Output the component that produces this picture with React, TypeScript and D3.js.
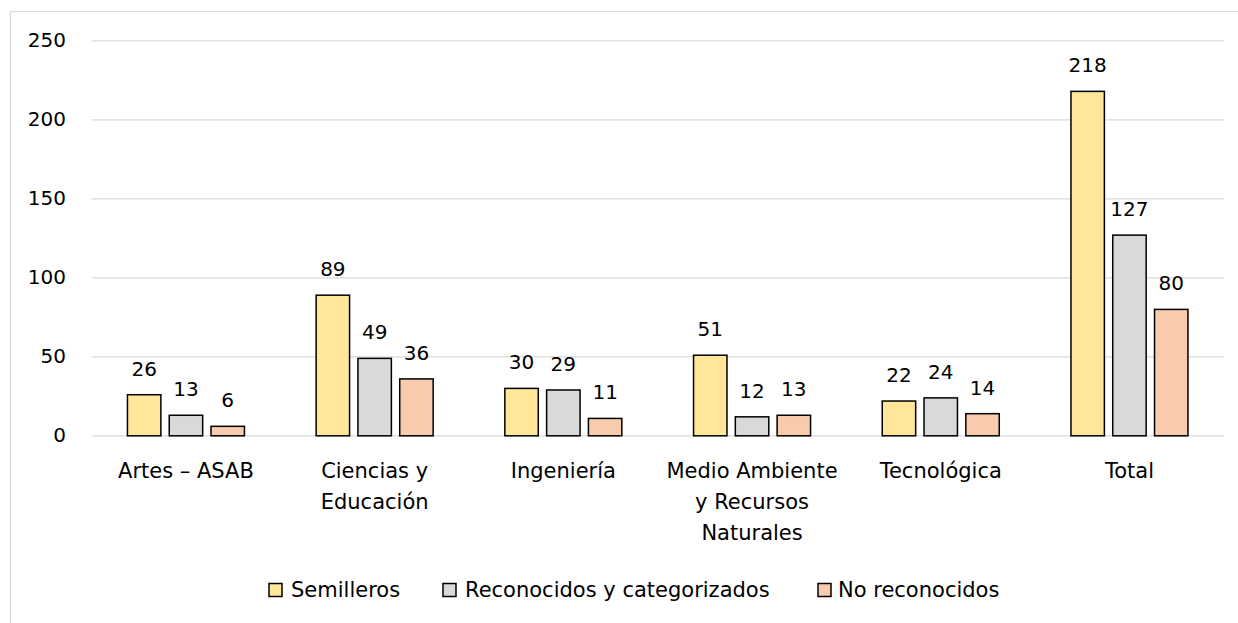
import React from "react";
import * as d3 from "d3";

const categories: string[][] = [
  ["Artes – ASAB"],
  ["Ciencias y", "Educación"],
  ["Ingeniería"],
  ["Medio Ambiente", "y Recursos", "Naturales"],
  ["Tecnológica"],
  ["Total"],
];
const seriesNames = ["Semilleros", "Reconocidos y categorizados", "No reconocidos"];
const semilleros = [26, 89, 30, 51, 22, 218];
const reconocidos = [13, 49, 29, 12, 24, 127];
const noReconocidos = [6, 36, 11, 13, 14, 80];
const yTicks = [0, 50, 100, 150, 200, 250];
const colors = ["#FFE699", "#D9D9D9", "#F8CBAD"];

const W = 1238;
const H = 623;
const FONT = "'DejaVu Sans', sans-serif";

export default function App() {
  const series = [semilleros, reconocidos, noReconocidos];
  const x0 = d3
    .scaleBand<number>()
    .domain(d3.range(categories.length))
    .range([91.6, 1223.8]);
  const groupW = 117;
  const x1 = d3
    .scaleBand<number>()
    .domain([0, 1, 2])
    .range([0, groupW])
    .paddingInner(0.2);
  const y = d3.scaleLinear().domain([0, 250]).range([435.8, 40.8]);

  const legendSwatchX = [269, 443, 818];
  const legendTextX = [291, 465, 838];

  return (
    <svg
      width={W}
      height={H}
      style={{ position: "absolute", left: 0, top: 0, background: "#fff" }}
      fontFamily={FONT}
    >
      <rect x={10.5} y={11.5} width={1260} height={640} fill="#fff" stroke="#d9d9d9" strokeWidth={1.2} />
      {yTicks.map((t) => (
        <g key={t}>
          <line x1={x0.range()[0]} x2={x0.range()[1]} y1={y(t)} y2={y(t)} stroke="#d9d9d9" strokeWidth={1.3} />
          <text x={66} y={y(t) + 6.5} textAnchor="end" fontSize={20} fill="#000">
            {t}
          </text>
        </g>
      ))}
      {categories.map((cat, i) => {
        const gx = (x0(i) as number) + x0.bandwidth() / 2 - groupW / 2;
        return (
          <g key={i}>
            {series.map((s, j) => {
              const bx = gx + (x1(j) as number);
              const by = y(s[i]);
              return (
                <g key={j}>
                  <rect
                    x={bx}
                    y={by}
                    width={x1.bandwidth()}
                    height={y(0) - by}
                    fill={colors[j]}
                    stroke="#000"
                    strokeWidth={1.5}
                  />
                  <text
                    x={bx + x1.bandwidth() / 2}
                    y={by - 19}
                    textAnchor="middle"
                    fontSize={20}
                    fill="#000"
                  >
                    {s[i]}
                  </text>
                </g>
              );
            })}
            {cat.map((line, k) => (
              <text
                key={k}
                x={(x0(i) as number) + x0.bandwidth() / 2}
                y={477.5 + k * 31}
                textAnchor="middle"
                fontSize={21}
                fill="#000"
              >
                {line}
              </text>
            ))}
          </g>
        );
      })}
      {seriesNames.map((name, j) => (
        <g key={name}>
          <rect x={legendSwatchX[j]} y={583.5} width={13} height={13} fill={colors[j]} stroke="#000" strokeWidth={1.5} />
          <text x={legendTextX[j]} y={597} fontSize={21} fill="#000">
            {name}
          </text>
        </g>
      ))}
    </svg>
  );
}
